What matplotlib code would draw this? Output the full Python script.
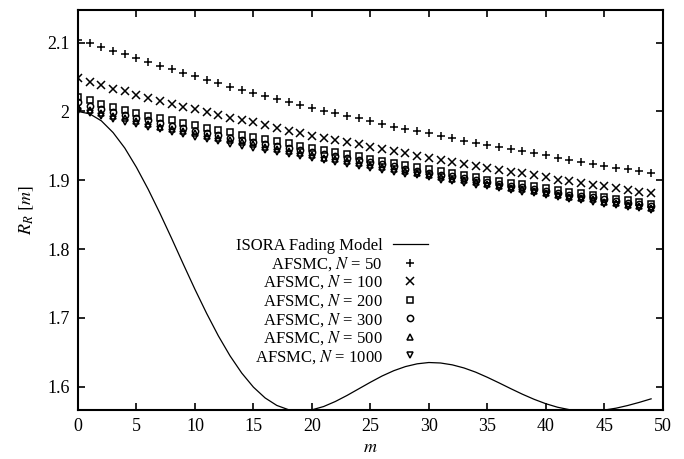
import numpy as np
from matplotlib import pyplot as plt

plt.rcParams['font.family'] = ['Liberation Serif', 'DejaVu Serif']
plt.rcParams['mathtext.fontset'] = 'stix'

m = list(range(50))

# ISORA fading model
isora = [2.0000, 1.9965, 1.9863, 1.9693, 1.9468, 1.9187, 1.8869, 1.8522, 1.8157, 1.7782,
         1.7414, 1.7064, 1.6738, 1.6447, 1.6197, 1.5992, 1.5835, 1.5726, 1.5664, 1.5644,
         1.5662, 1.5710, 1.5783, 1.5871, 1.5967, 1.6063, 1.6154, 1.6231, 1.6291, 1.6331,
         1.6350, 1.6343, 1.6316, 1.6271, 1.6210, 1.6135, 1.6054, 1.5970, 1.5889, 1.5815,
         1.5751, 1.5700, 1.5665, 1.5647, 1.5645, 1.5659, 1.5686, 1.5725, 1.5771, 1.5822]

n50 = [2.104, 2.099, 2.094, 2.088, 2.083, 2.077, 2.072, 2.066, 2.061, 2.056,
       2.051, 2.046, 2.041, 2.036, 2.031, 2.027, 2.022, 2.018, 2.014, 2.010,
       2.005, 2.001, 1.997, 1.993, 1.990, 1.986, 1.982, 1.978, 1.975, 1.971,
       1.968, 1.964, 1.961, 1.957, 1.954, 1.951, 1.948, 1.945, 1.942, 1.939,
       1.936, 1.933, 1.930, 1.927, 1.924, 1.921, 1.918, 1.916, 1.913, 1.910]

n100 = [2.048, 2.043, 2.038, 2.033, 2.029, 2.024, 2.019, 2.015, 2.011, 2.007,
        2.003, 1.999, 1.995, 1.991, 1.988, 1.984, 1.980, 1.976, 1.972, 1.969,
        1.965, 1.962, 1.958, 1.955, 1.952, 1.948, 1.945, 1.942, 1.939, 1.935,
        1.932, 1.929, 1.927, 1.924, 1.921, 1.918, 1.915, 1.912, 1.910, 1.907,
        1.904, 1.901, 1.899, 1.896, 1.893, 1.891, 1.888, 1.886, 1.883, 1.881]

n200 = [2.021, 2.016, 2.011, 2.007, 2.002, 1.998, 1.994, 1.990, 1.987, 1.983,
        1.980, 1.976, 1.973, 1.970, 1.966, 1.963, 1.960, 1.957, 1.954, 1.950,
        1.947, 1.944, 1.941, 1.938, 1.935, 1.931, 1.928, 1.925, 1.922, 1.919,
        1.916, 1.913, 1.910, 1.907, 1.904, 1.901, 1.899, 1.896, 1.894, 1.891,
        1.888, 1.886, 1.883, 1.881, 1.878, 1.876, 1.873, 1.871, 1.868, 1.866]

n300 = [2.013, 2.008, 2.003, 1.999, 1.995, 1.991, 1.987, 1.983, 1.979, 1.976,
        1.972, 1.969, 1.966, 1.962, 1.959, 1.956, 1.953, 1.950, 1.947, 1.944,
        1.941, 1.938, 1.935, 1.932, 1.929, 1.926, 1.923, 1.920, 1.917, 1.914,
        1.911, 1.908, 1.906, 1.903, 1.900, 1.897, 1.895, 1.892, 1.890, 1.887,
        1.884, 1.882, 1.879, 1.877, 1.875, 1.872, 1.870, 1.867, 1.865, 1.862]

n500 = [2.007, 2.002, 1.998, 1.994, 1.990, 1.986, 1.982, 1.978, 1.975, 1.971,
        1.968, 1.964, 1.961, 1.958, 1.955, 1.952, 1.948, 1.945, 1.942, 1.939,
        1.936, 1.933, 1.931, 1.928, 1.925, 1.922, 1.919, 1.916, 1.913, 1.911,
        1.908, 1.905, 1.902, 1.900, 1.897, 1.894, 1.892, 1.889, 1.887, 1.884,
        1.881, 1.879, 1.876, 1.874, 1.872, 1.869, 1.867, 1.864, 1.862, 1.859]

n1000 = [2.001, 1.997, 1.993, 1.989, 1.985, 1.981, 1.977, 1.974, 1.970, 1.967,
         1.963, 1.960, 1.957, 1.953, 1.950, 1.947, 1.944, 1.941, 1.938, 1.935,
         1.932, 1.929, 1.926, 1.923, 1.921, 1.918, 1.915, 1.912, 1.909, 1.907,
         1.904, 1.901, 1.899, 1.896, 1.893, 1.891, 1.888, 1.886, 1.883, 1.881,
         1.878, 1.876, 1.873, 1.871, 1.869, 1.866, 1.864, 1.861, 1.859, 1.856]

series = [
    (n50, '+', 50),
    (n100, 'x', 100),
    (n200, 's', 200),
    (n300, 'o', 300),
    (n500, '^', 500),
    (n1000, 'v', 1000),
]


def main():
    fig = plt.figure(figsize=(6.84, 4.59), dpi=100)
    ax = fig.add_axes([0.114, 0.1068, 0.855, 0.8715])

    ax.plot(m, isora, color='black', linewidth=0.9, label='ISORA Fading Model')
    for vals, mk, n in series:
        filled = mk in ('+', 'x')
        ax.plot(m, vals, linestyle='', marker=mk, markersize=5.5 if filled else 4.5,
                markerfacecolor='none', markeredgecolor='black', markeredgewidth=1.1,
                color='black', label=f'AFSMC, $N$ = {n}')

    ax.set_xlim(0, 50)
    ax.set_ylim(1.566, 2.1475)
    ax.set_xticks(np.arange(0, 51, 5))
    ax.set_yticks([1.6, 1.7, 1.8, 1.9, 2.0, 2.1])
    ax.set_yticklabels(['1.6', '1.7', '1.8', '1.9', '2', '2.1'])
    ax.tick_params(direction='in', length=5, width=1.2, top=True, right=True,
                   labelsize=13, pad=6)
    for s in ax.spines.values():
        s.set_linewidth(1.5)

    ax.set_xlabel('$m$', fontsize=13, labelpad=3)
    ax.set_ylabel('$R_R\\ [m]$', fontsize=13, labelpad=8)

    leg = ax.legend(loc='center', bbox_to_anchor=(0.434, 0.27), frameon=False,
                    markerfirst=False, fontsize=12, labelspacing=0.05,
                    handlelength=2.1, handletextpad=0.6, borderpad=0.2)
    for col in leg._legend_handle_box.get_children():
        col.align = 'right'

    fig.savefig('out.png', dpi=100)


if __name__ == '__main__':
    main()
